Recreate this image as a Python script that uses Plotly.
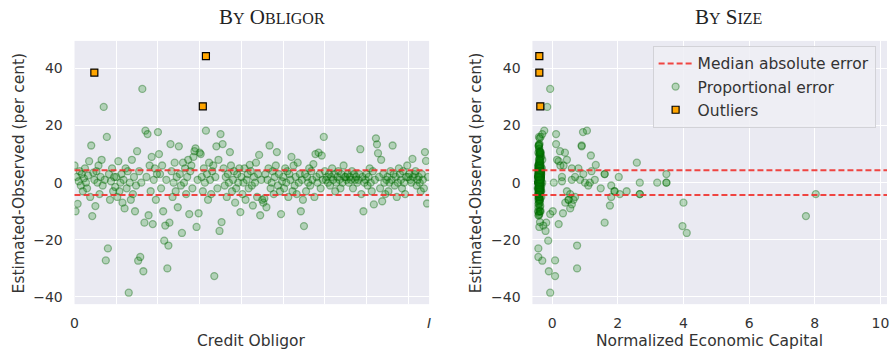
import plotly.graph_objects as go

# ---------------- data ----------------
errors = [
    6, -10, 2, -7.4, 0.5, 4, -1, 3, -3, 1.5, 5, 0, -2, 2.5, 7.5, -5, 13, -11.7, 3.5, 1,
    -8.2, 4, 0, 6, -4, 2, 8, -1, 26.5, 1, -27.2, 16, -23, 3, -6, 0.5, 5, -3, 2, -1.5,
    2, -5, 7.5, -3, 0, 3, -7, 1, -9, 5, -2, 4, -38.5, 0, -6, 8, -4, 2, -10, -1,
    11, -27.3, 4, -26, 0, 32.8, -31, -14, 18.2, 2, 17, -11.4, 6, -3, 9, -14.5, 1, 5, -6, 3,
    17.7, 10, 3, -2, 6, -10, -20.3, -15, 1, -30, -22, -14, 13.5, 4, -5, 0, 7, -3, 2, -8.6,
    12.7, 3, -1, -17.6, 7, 0, 5, -4, 2, 8, -11, 4, 6, -2, 9, 11, 12, -15.5, 1, -10.7,
    10.5, 10, 2, -3, 5, 0, 18.2, 3, -6, 7, 1, -4, 4, 6, -32.7, 2, 12.7, -2, 8, -16.9,
    17, -13.8, 13.5, 5, -1, 2, -5, 3, 0, 10.7, 6, -3, 1, 4, -7, -2, 3, 0, 5, -10.3,
    2, -4, 0, 5, -6, 1, 3, -2, 6.2, 4, -1, -8, 2, 0, 7, -5, 3, 9.7, -11.4, 1,
    -6, -7, -5.5, 3, -8.6, 1, 5, 13, -2, 0, 4, -4, 2, 6, 10.7, -1, 3, -3, -11, 0.5,
    2, -2, 5, 0, 4, -5, 3, 1, 9, -3, 6, -1, 2, -4, 7, 0, 3, -10, 1, -6,
    -15.2, 3, -3, 2, 0, 5, -1, 4, 1, 6.5, -5, 10, 2, 0, 10.5, 3, -2, 9.5, 1, 16,
    4, 1, 2, 0, 3, -1, 2, 5, 1, 3, -3, 0, 2, 4, 1, -2, 3, 0, 6, 2,
    2, 1, 3, 0, 2, 1, 4, -2, 3, 1, 2, 0, 1, 3, 11.7, -4, 2, -10, 0, 1,
    3, -1, 2, 5, 0, -3, 4, -7.6, 1, 15.5, 13.4, 10.3, 2, -2, 8, -6.5, 3, 0, -4, 1,
    2, -3, 0, 4, 1, 13, 3, -1, 2, -5, 0, 5, 3, 1, -2, 4, 0, -4, 2, 6,
    2, 3, 1, 0, 8.3, 2, 3, 4, -1, 1, 2, 0, -3, 3, 1, -2, 10.7, 7.6, -7.3, 2,
]

econ_capital = [
    -0.4, -0.38, -0.35, -0.42, 0.3, -0.36, -0.4, -0.33, 0.45, -0.38, -0.41, -0.3, -0.44, -0.37, 0.2, -0.39, 0.9, 7.73, -0.34, -0.4,
    -0.36, -0.4, 0.05, -0.35, -0.42, -0.38, 0.15, -0.33, -0.15, -0.4, 0.09, -0.4, -0.42, -0.36, 0.5, -0.39, -0.31, 1.9, -0.43, -0.37,
    2.03, -0.4, -0.38, -0.35, 3.2, -0.41, -0.37, -0.4, 0.55, -0.34, 1.48, -0.39, -0.06, -0.36, -0.42, -0.3, -0.38, 0.7, -0.43, 1.1,
    -0.38, -0.3, -0.4, -0.42, -0.35, -0.06, -0.1, -0.18, 1.06, -0.37, 0.12, -0.4, 0.35, -0.33, -0.36, 0.2, -0.41, 0.6, -0.38, 1.6,
    0.94, -0.35, -0.4, -0.37, -0.42, 0.02, -0.12, -0.27, -0.36, 0.76, 0.76, 1.6, 0.12, -0.39, -0.33, 3.48, 2.58, 2.27, -0.4, -0.38,
    0.9, 3.48, -0.4, 4.1, -0.36, -0.38, -0.42, 2.67, -0.35, -0.4, -0.06, 1.2, -0.37, -0.41, -0.33, 0.24, -0.39, -0.39, -0.36, 0.33,
    0.39, -0.38, -0.4, -0.35, 0.8, 2.67, -0.24, -0.42, 0.65, -0.37, -0.39, 2.06, -0.36, -0.4, 0.09, -0.34, -0.41, -0.38, 0.45, -0.2,
    -0.3, -0.37, -0.38, -0.4, 1.8, -0.36, -0.42, 1.6, -0.39, -0.35, -0.41, 1.9, -0.38, -0.33, 0.4, -0.4, -0.37, 1.0, -0.36, -0.41,
    -0.4, -0.38, -0.35, -0.42, -0.37, 0.6, -0.39, -0.41, 1.33, -0.36, -0.4, 1.76, -0.34, -0.38, -0.4, 1.8, -0.37, -0.39, -0.42, 0.85,
    -0.38, 4.0, -0.4, -0.36, -0.42, -0.39, -0.37, -0.4, -0.35, 3.48, -0.38, 8.03, -0.41, 0.25, -0.36, -0.4, 0.95, -0.37, -0.39, -0.42,
    -0.36, -0.4, -0.38, -0.42, -0.35, -0.39, -0.41, 1.3, -0.37, -0.4, -0.38, -0.36, -0.42, 0.55, -0.39, -0.4, -0.35, -0.37, -0.41, 0.5,
    3.97, -0.38, -0.4, -0.36, -0.42, -0.39, -0.37, -0.41, -0.35, -0.4, 0.7, -0.38, -0.36, 1.15, -0.42, -0.39, -0.4, 1.18, -0.37, -0.35,
    -0.4, -0.38, -0.42, -0.36, -0.39, -0.41, -0.37, -0.4, -0.35, -0.38, -0.42, -0.39, 0.3, -0.36, -0.4, -0.37, -0.41, -0.38, -0.42, -0.39,
    -0.37, -0.4, -0.36, -0.42, -0.38, -0.39, -0.41, -0.35, -0.4, -0.38, -0.42, -0.37, -0.39, -0.36, -0.4, -0.41, -0.38, -0.35, -0.42, -0.4,
    -0.39, -0.36, -0.4, -0.38, -0.42, -0.37, -0.41, 0.6, -0.35, -0.38, -0.4, -0.36, -0.39, -0.42, -0.37, -0.4, -0.38, -0.41, 2.67, -0.36,
    -0.4, -0.38, -0.42, -0.36, -0.39, -0.41, -0.37, -0.4, -0.35, -0.38, -0.42, -0.39, -0.36, -0.4, -0.37, -0.41, -0.38, -0.42, -0.39, -0.36,
    -0.38, -0.4, -0.36, -0.42, -0.39, -0.37, -0.41, -0.35, -0.4, -0.38, -0.42, -0.36, -0.39, -0.4, -0.37, -0.41, -0.38, -0.36, -0.4, -0.42,
]

obligor_index = list(range(len(errors)))
n_obligors = len(errors)

outlier_index = [19, 123, 126]
outlier_error = [38.5, 26.7, 44.3]
outlier_capital = [-0.39, -0.36, -0.39]

median_abs_error = 4.3

# ---------------- styling ----------------
BG = "#EAEAF2"
GREEN_FILL = "rgba(0,128,0,0.24)"
GREEN_EDGE = "rgba(0,100,0,0.38)"
RED = "rgba(240,50,45,0.9)"
TXT = "#333333"
TICK_FONT = dict(family="DejaVu Sans", size=14, color=TXT)
LABEL_SIZE = 15.5

fig = go.Figure()

fig.add_trace(go.Scatter(x=[None], y=[None], mode="lines", name="Median absolute error",
                         line=dict(color=RED, dash="6px,3px", width=2),
                         xaxis="x2", yaxis="y2", showlegend=True))

pts_marker = dict(size=7, color=GREEN_FILL, line=dict(color=GREEN_EDGE, width=1.3))
out_marker = dict(size=7, symbol="square", color="#FFA500", line=dict(color="black", width=1.2))

fig.add_trace(go.Scatter(x=obligor_index, y=errors, mode="markers", marker=pts_marker,
                         xaxis="x", yaxis="y", showlegend=False))
fig.add_trace(go.Scatter(x=outlier_index, y=outlier_error, mode="markers", marker=out_marker,
                         xaxis="x", yaxis="y", showlegend=False))
fig.add_trace(go.Scatter(x=econ_capital, y=errors, mode="markers", marker=pts_marker,
                         name="Proportional error", xaxis="x2", yaxis="y2"))
fig.add_trace(go.Scatter(x=outlier_capital, y=outlier_error, mode="markers", marker=out_marker,
                         name="Outliers", xaxis="x2", yaxis="y2"))

shapes = []
for xr, yr in [("x domain", "y"), ("x2 domain", "y2")]:
    for s in (1, -1):
        shapes.append(dict(type="line", xref=xr, yref=yr, x0=0, x1=1,
                           y0=s * median_abs_error, y1=s * median_abs_error,
                           line=dict(color=RED, dash="6px,3px", width=2)))

W, H = 894, 354
left_dom = [71 / W, 428 / W]
right_dom = [532 / W, 889 / W]
y_dom = [(H - 305) / H, (H - 41) / H]

common_y = dict(range=[-42.5, 49.6], tickvals=[-40, -20, 0, 20, 40], showgrid=True,
                gridcolor="white", gridwidth=1.2, zeroline=False, showline=False,
                ticks="outside", ticklen=8, tickcolor="rgba(0,0,0,0)", tickfont=TICK_FONT,
                domain=y_dom)

title_big = 21
title_small = 16

def smallcaps(words):
    parts = []
    for w in words:
        parts.append(w[0] + f"<span style='font-size:{title_small}px'>{w[1:].upper()}</span>")
    return " ".join(parts)

def ann(text, x, y, size, family="DejaVu Sans", angle=0, color=TXT):
    return dict(text=text, x=x / W, y=1 - y / H, xref="paper", yref="paper",
                xanchor="center", yanchor="middle", textangle=angle, showarrow=False,
                font=dict(family=family, size=size, color=color))

annotations = [
    ann(smallcaps(["By", "Obligor"]), 270, 17, title_big, family="Liberation Serif", color="#222"),
    ann(smallcaps(["By", "Size"]), 729, 17, title_big, family="Liberation Serif", color="#222"),
    ann("Estimated-Observed (per cent)", 15, 173, LABEL_SIZE, angle=-90),
    ann("Estimated-Observed (per cent)", 475, 173, LABEL_SIZE, angle=-90),
    ann("Credit Obligor", 249, 342, LABEL_SIZE),
    ann("Normalized Economic Capital", 710, 342, LABEL_SIZE),
]

fig.update_layout(
    width=W, height=H,
    margin=dict(l=0, r=0, t=0, b=0),
    paper_bgcolor="white",
    plot_bgcolor=BG,
    xaxis=dict(domain=left_dom, range=[0, n_obligors], tickvals=[0, n_obligors],
               ticktext=["0", "<i>I</i>"], showgrid=True, gridcolor="white", gridwidth=1.2,
               minor=dict(tick0=0, dtick=40, showgrid=True, gridcolor="white", gridwidth=1.2),
               zeroline=False, showline=False, ticks="outside", ticklen=6,
               tickcolor="rgba(0,0,0,0)", tickfont=TICK_FONT, anchor="y"),
    yaxis=dict(anchor="x", **common_y),
    xaxis2=dict(domain=right_dom, range=[-0.6, 10.2], tickvals=[0, 2, 4, 6, 8, 10],
                showgrid=True, gridcolor="white", gridwidth=1.2, zeroline=False, showline=False,
                ticks="outside", ticklen=6, tickcolor="rgba(0,0,0,0)", tickfont=TICK_FONT,
                anchor="y2"),
    yaxis2=dict(anchor="x2", **common_y),
    shapes=shapes,
    annotations=annotations,
    legend=dict(x=653 / W, y=1 - 46 / H, xanchor="left", yanchor="top",
                bgcolor="rgba(238,238,245,0.85)", bordercolor="rgba(210,210,215,1)", borderwidth=1,
                font=dict(family="DejaVu Sans", size=15.5, color=TXT),
                tracegroupgap=0, itemwidth=34),
    showlegend=True,
)

fig.write_html("out.html")
